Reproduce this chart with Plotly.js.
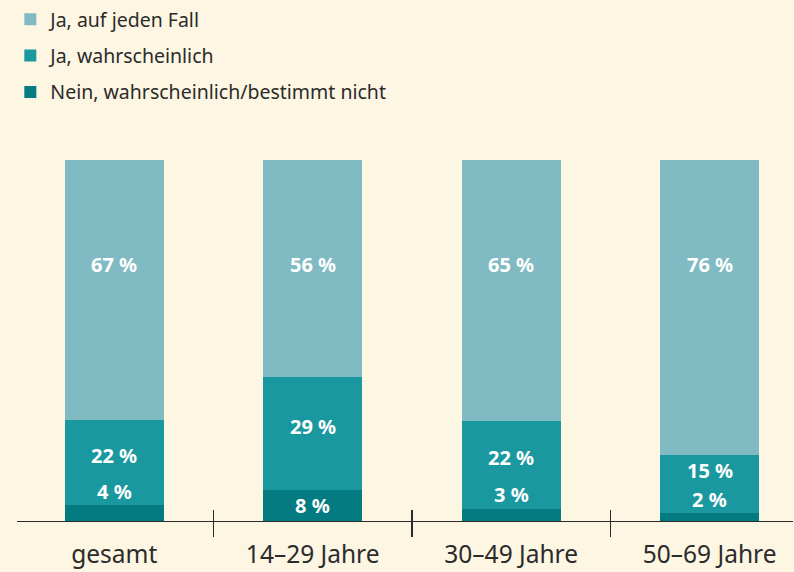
<!DOCTYPE html>
<html><head><meta charset="utf-8">
<script src="https://cdn.plot.ly/plotly-3.0.1.min.js"></script>
<style>html,body{margin:0;padding:0;background:#fdf6e2;}</style>
</head><body>
<div id="chart" style="width:794px;height:572px;"></div>
<script>
const categories = ["gesamt", "14–29 Jahre", "30–49 Jahre", "50–69 Jahre"];
const seriesNames = ["Nein, wahrscheinlich/bestimmt nicht", "Ja, wahrscheinlich", "Ja, auf jeden Fall"];
const nein = [4, 8, 3, 2];
const wahrscheinlich = [22, 29, 22, 15];
const aufJedenFall = [67, 56, 65, 76];
const colors = ["#047b81", "#1a989f", "#80bbc3"];

const series = [nein, wahrscheinlich, aufJedenFall];
const traces = series.map((vals, i) => ({
  type: "bar", x: categories, y: vals, name: seriesNames[i],
  legendrank: 3 - i, legendgroup: "g" + i,
  marker: {color: colors[i], line: {width: 0}},
  hoverinfo: "skip"
}));
// overlay axis carrying the upper half of the crossing tick marks
traces.push({type: "bar", x: categories, y: [0, 0, 0, 0], xaxis: "x2", showlegend: false, hoverinfo: "skip"});

const annotations = [];
const lbl = (x, y, t) => ({x: x, y: y, xref: "x", yref: "y", text: "<b>" + t + " %</b>",
  showarrow: false, font: {family: "Noto Sans, Open Sans, sans-serif", size: 20, color: "#ffffff"}});
categories.forEach((c, i) => {
  const tot = nein[i] + wahrscheinlich[i] + aufJedenFall[i];
  const d = nein[i] / tot * 100;
  const t = (nein[i] + wahrscheinlich[i]) / tot * 100;
  const darkY = nein[i] >= 6 ? d / 2 : d + 3.9;
  const tealY = Math.max((d + t) / 2 + 2, darkY + 8);
  const lightY = 100 - 29;
  annotations.push(lbl(c, darkY, nein[i]));
  annotations.push(lbl(c, tealY, wahrscheinlich[i]));
  annotations.push(lbl(c, lightY, aufJedenFall[i]));
});

const xRange = [-0.49, 3.42];
const layout = {
  width: 794, height: 572,
  paper_bgcolor: "#fdf6e2", plot_bgcolor: "#fdf6e2",
  margin: {l: 17, r: 1, t: 160, b: 51, autoexpand: false},
  barmode: "stack", barnorm: "percent", bargap: 0.5,
  font: {family: "Noto Sans, Open Sans, sans-serif", color: "#2b2b2b"},
  showlegend: true,
  legend: {xref: "container", yref: "container", x: 0.013, y: 1.003, xanchor: "left", yanchor: "top",
    traceorder: "grouped", tracegroupgap: 8, bgcolor: "rgba(0,0,0,0)",
    font: {size: 19.5, color: "#2b2b2b"}},
  xaxis: {type: "category", categoryorder: "array", categoryarray: categories, range: xRange,
    autorange: false, showline: true, linecolor: "#2b2b2b", linewidth: 1.3,
    ticks: "outside", tickson: "boundaries", ticklen: 15, tickcolor: "#2b2b2b", tickwidth: 1.3,
    tickangle: 0, automargin: false, ticklabelstandoff: 11,
    tickfont: {size: 24.5, color: "#2b2b2b"}, showgrid: false, zeroline: false, fixedrange: true},
  xaxis2: {type: "category", categoryorder: "array", categoryarray: categories, range: xRange,
    autorange: false, overlaying: "x", side: "bottom", anchor: "y",
    ticks: "inside", tickson: "boundaries", ticklen: 11, tickcolor: "#2b2b2b", tickwidth: 1.3,
    showticklabels: false, showline: false, showgrid: false, zeroline: false},
  yaxis: {range: [0, 100], visible: false, showgrid: false, zeroline: false, fixedrange: true},
  annotations: annotations
};
Plotly.newPlot("chart", traces, layout, {staticPlot: true, displayModeBar: false});
</script>
</body></html>
